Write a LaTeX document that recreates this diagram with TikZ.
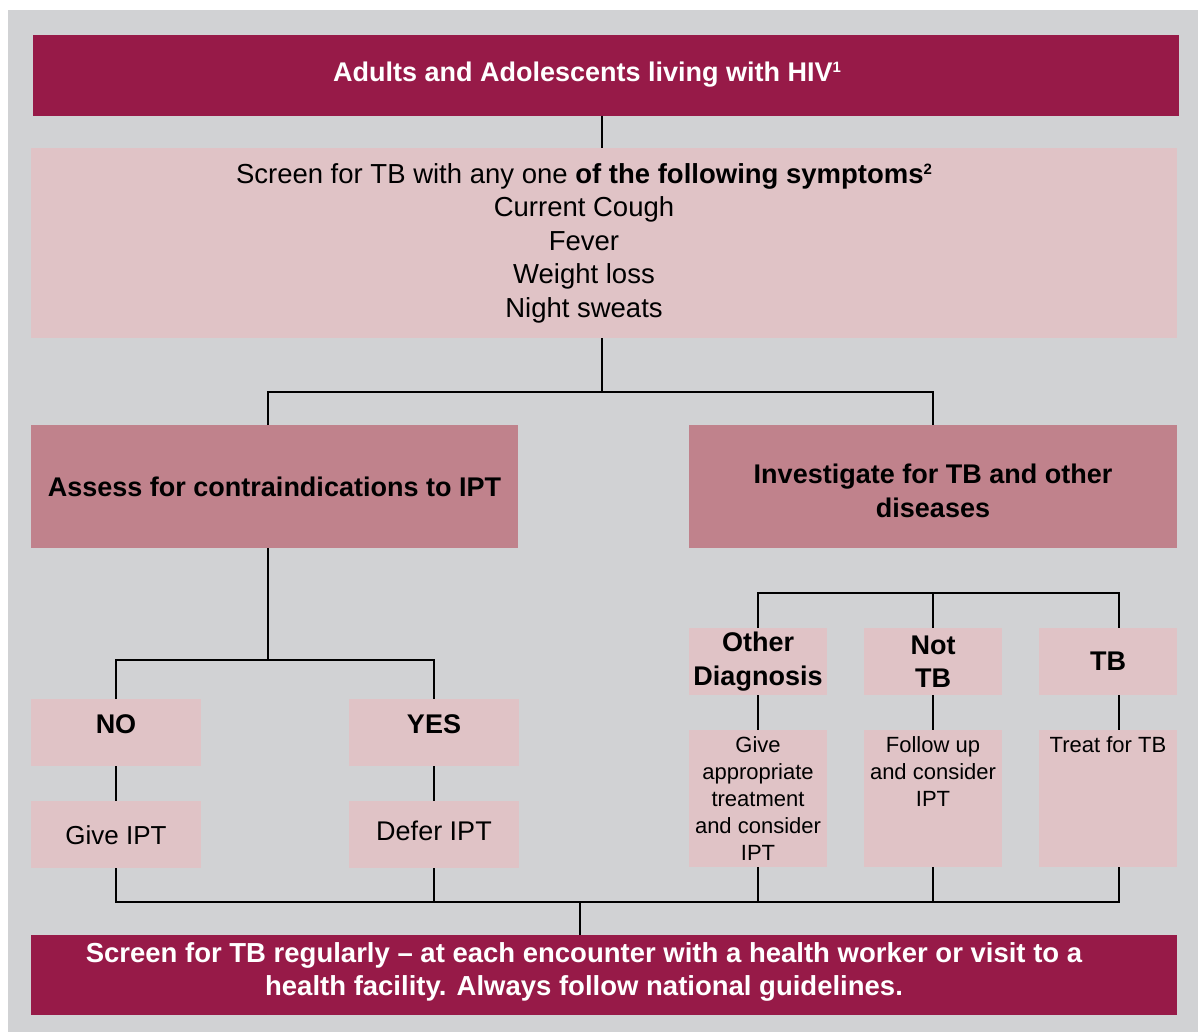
\documentclass[tikz,border=0pt]{standalone}
\usepackage{fontspec}
\setmainfont{Liberation Sans}
\definecolor{maroon}{HTML}{971A48}
\definecolor{rosemid}{HTML}{C0828C}
\definecolor{roselight}{HTML}{E0C3C6}
\definecolor{panelgray}{HTML}{D1D2D4}
\newcommand\bigtxt{\fontsize{27}{33.5}\selectfont}
\newcommand\midtxt{\fontsize{26}{32}\selectfont}
\newcommand\smalltxt{\fontsize{22}{27}\selectfont}
\newcommand\footmark[1]{\raisebox{9pt}{\fontsize{15}{15}\selectfont #1}}
\begin{document}
\begin{tikzpicture}[x=1pt,y=-1pt,
  box/.style={rectangle, draw=none, inner sep=0pt, outer sep=0pt, align=center},
  darkbox/.style={box, fill=maroon, text=white},
  midbox/.style={box, fill=rosemid, font=\bigtxt\bfseries},
  lightbox/.style={box, fill=roselight},
  txt/.style={inner sep=0pt, outer sep=0pt, align=center},
  link/.style={draw=black, line width=2.8pt, line join=miter}]

\useasboundingbox (0,0) rectangle (1198,1032);
\fill[panelgray] (8,10) rectangle (1198,1032);

% top banner
\node[darkbox, minimum width=1146pt, minimum height=81pt] (top) at (606,75.5) {};
\node[txt, text=white, font=\bigtxt\bfseries] (toptext) at (587,75)
  {Adults and Adolescents living with HIV\footmark{1}};

% symptom screen
\node[lightbox, minimum width=1146pt, minimum height=190pt] (sym) at (604,243) {};
\node[txt, font=\fontsize{27.5}{33.5}\selectfont] (symtext) at (584,243)
  {Screen for TB with any one \textbf{of the following symptoms\footmark{2}}\\
   Current Cough\\ Fever\\ Weight loss\\ Night sweats};

% branch headings
\node[midbox, minimum width=487pt, minimum height=123pt] (assess) at (274.5,486.5)
  {Assess for contraindications to IPT};
\node[midbox, minimum width=488pt, minimum height=123pt] (invest) at (933,486.5) {};
\node[txt, font=\bigtxt\bfseries] (investtext) at (933,491)
  {Investigate for TB and other\\diseases};

% left branch
\node[lightbox, font=\bigtxt\bfseries, minimum width=170pt, minimum height=67pt,
      text height=20pt, text depth=18pt] (no) at (116,732.5) {NO};
\node[lightbox, font=\bigtxt\bfseries, minimum width=170pt, minimum height=67pt,
      text height=20pt, text depth=18pt] (yes) at (434,732.5) {YES};
\node[lightbox, font=\midtxt, minimum width=170pt, minimum height=67pt,
      text height=19pt, text depth=-4pt] (give) at (116,834.5) {Give IPT};
\node[lightbox, font=\bigtxt, minimum width=170pt, minimum height=67pt,
      text height=19pt, text depth=8pt] (defer) at (434,834.5) {Defer IPT};

% right branch
\node[lightbox, font=\bigtxt\bfseries, minimum width=138pt, minimum height=67pt] (other) at (758,661.5)
  {Other\\Diagnosis};
\node[lightbox, font=\bigtxt\bfseries, minimum width=138pt, minimum height=67pt] (nottb) at (933,661.5)
  {Not\\TB};
\node[lightbox, font=\bigtxt\bfseries, minimum width=138pt, minimum height=67pt] (tb) at (1108,661.5)
  {TB};

\node[lightbox, minimum width=138pt, minimum height=137pt] (odcare) at (758,798.5) {};
\node[lightbox, minimum width=138pt, minimum height=137pt] (ntcare) at (933,798.5) {};
\node[lightbox, minimum width=138pt, minimum height=137pt] (tbcare) at (1108,798.5) {};
\node[txt, font=\smalltxt, anchor=north] (odtext) at ([yshift=-7pt]odcare.north)
  {Give\\appropriate\\treatment\\and consider\\IPT};
\node[txt, font=\smalltxt, anchor=north] (nttext) at ([yshift=-7pt]ntcare.north)
  {Follow up\\and consider\\IPT};
\node[txt, font=\smalltxt, anchor=north] (tbtext) at ([yshift=-7pt]tbcare.north)
  {Treat for TB};

% closing banner
\node[darkbox, minimum width=1146pt, minimum height=80pt] (final) at (604,975) {};
\node[txt, text=white, font=\fontsize{27.5}{33}\selectfont\bfseries] (finaltext) at (584,971.5)
  {Screen for TB regularly -- at each encounter with a health worker or visit to a\\
   health facility. Always follow national guidelines.};

% junction points
\coordinate (j1) at (602,392);
\coordinate (j2) at (268,660);
\coordinate (j3) at (933,593);
\coordinate (j4) at (580,902);
\coordinate (tbin) at ([xshift=11pt]tb.north);
\coordinate (tbmid) at ([xshift=11pt]tb.south);
\coordinate (tbcin) at ([xshift=11pt]tbcare.north);
\coordinate (tbout) at ([xshift=11pt]tbcare.south);

% connectors
\draw[link] (top.south -| j1) -- (sym.north -| j1);
\draw[link] (sym.south -| j1) -- (j1);
\draw[link] (assess.north -| j2) |- (j1) -| (invest.north);
\draw[link] (assess.south -| j2) -- (j2);
\draw[link] (no.north) |- (j2) -| (yes.north);
\draw[link] (no.south) -- (give.north);
\draw[link] (yes.south) -- (defer.north);

\draw[link] (other.north) |- (j3) -| (tbin);
\draw[link] (nottb.north) -- (j3);
\draw[link] (other.south) -- (odcare.north);
\draw[link] (nottb.south) -- (ntcare.north);
\draw[link] (tbmid) -- (tbcin);

\draw[link] (give.south) |- (j4 -| tbout) -- (tbout);
\draw[link] (defer.south) -- (defer.south |- j4);
\draw[link] (odcare.south) -- (odcare.south |- j4);
\draw[link] (ntcare.south) -- (ntcare.south |- j4);
\draw[link] (j4) -- (final.north -| j4);
\end{tikzpicture}
\end{document}
